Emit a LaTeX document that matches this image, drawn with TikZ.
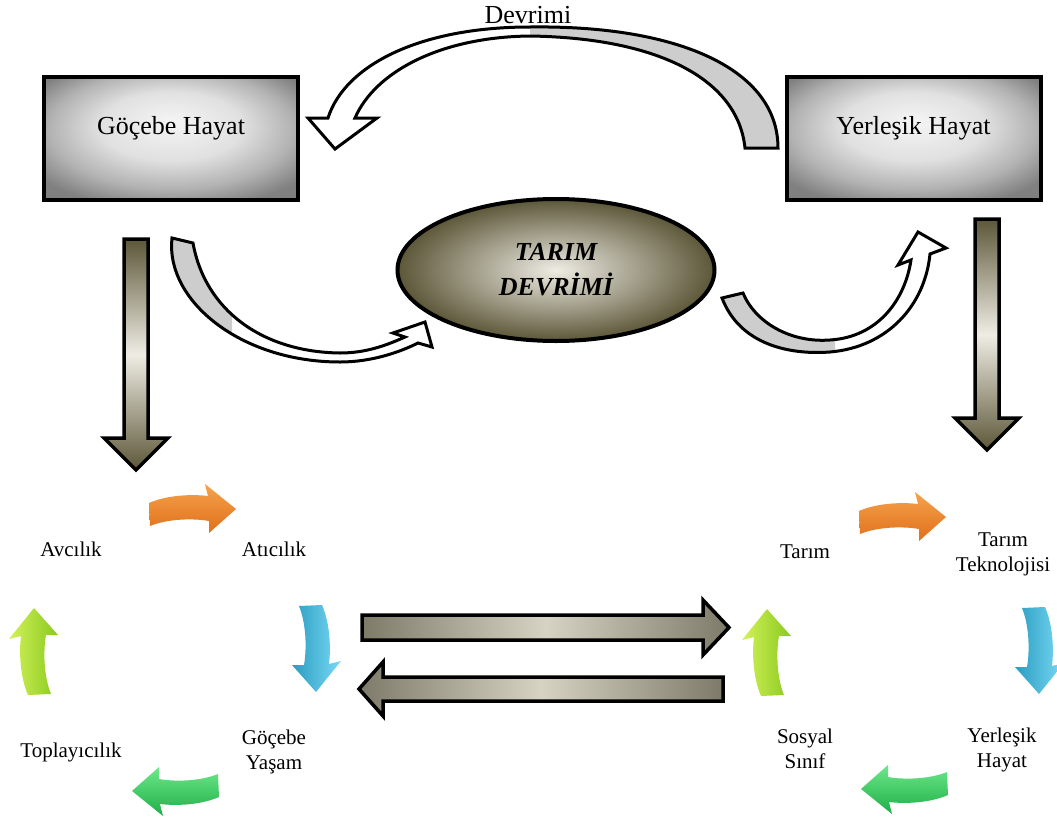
\documentclass[tikz,border=0pt]{standalone}
\usepackage{fontspec}
\setmainfont{Liberation Serif}
\usetikzlibrary{shapes.geometric}

\definecolor{zeytin}{HTML}{5C5738}
\definecolor{krem}{HTML}{EFECE4}
\definecolor{bej}{HTML}{D6D3C4}
\definecolor{bejkoyu}{HTML}{7E7A68}
\definecolor{seritgri}{HTML}{CDCDCD}
\definecolor{turuncuA}{HTML}{F6A24C}
\definecolor{turuncuK}{HTML}{E0701A}
\definecolor{maviA}{HTML}{7ADAF4}
\definecolor{maviK}{HTML}{2A9CC2}
\definecolor{yesilA}{HTML}{6EE88A}
\definecolor{yesilK}{HTML}{1EAE48}
\definecolor{cimenA}{HTML}{D2F25A}
\definecolor{cimenK}{HTML}{8AC91E}

\pgfdeclareradialshading{kutugolge}{\pgfpoint{0bp}{7bp}}{color(0bp)=(black!4); color(14bp)=(black!12); color(24bp)=(black!30); color(32bp)=(black!50); color(50bp)=(black!50)}

% egri blok oklar
\newcommand{\devrimiyol}{(745,148) -- (778,148) .. controls (778,70) and (680,25) .. (530,27) .. controls (420,27) and (345,65) .. (328,118) -- (308,118) -- (335,149) -- (377,118) -- (355,118) .. controls (375,72) and (440,37) .. (530,36) .. controls (660,38) and (738,80) .. (745,148) -- cycle}
\newcommand{\solyol}{(172,238) .. controls (165,300) and (240,362) .. (340,362) .. controls (372,362) and (400,352) .. (418,343) -- (432,347) -- (425,322) -- (393,333) -- (405,337) .. controls (385,346) and (365,353) .. (340,353) .. controls (262,352) and (205,310) .. (193,243) -- cycle}
\newcommand{\sagyol}{(722,298) .. controls (740,345) and (790,355) .. (830,352) .. controls (888,347) and (925,305) .. (930,254) -- (946,248) -- (918,232) -- (898,265) -- (911,260) .. controls (905,300) and (878,337) .. (830,340) .. controls (790,343) and (755,322) .. (743,293) -- cycle}
% dongu oku
\newcommand{\dongu}{(-43,-7) .. controls (-25,-15) and (0,-16) .. (16,-14) -- (13,-26) -- (44,-1) -- (17,23) -- (17,11) .. controls (0,8) and (-25,9) .. (-42,16) -- cycle}

\begin{document}
\begin{tikzpicture}[x=0.5pt,y=-0.5pt,
  kutu/.style={draw,line width=2pt,rectangle,minimum width=127pt,minimum height=61.5pt,
    shading=kutugolge,font=\fontsize{13}{15}\selectfont,text height=9pt,text depth=13pt},
  dikok/.style={draw,line width=1.75pt,top color=zeytin,bottom color=zeytin,middle color=krem},
  yatok/.style={draw,line width=1.75pt,left color=bejkoyu,right color=bejkoyu,middle color=bej},
  etiket/.style={align=center,font=\fontsize{10.5}{12.5}\selectfont},
  seritok/.style={line width=1.5pt,line join=miter}]
\useasboundingbox (0,0) rectangle (1057,820);

\fill[white] \devrimiyol;
\begin{scope}
\clip (530,0) rectangle (800,160);
\fill[seritgri] \devrimiyol;
\end{scope}
\draw[seritok] \devrimiyol;

\fill[white] \solyol;
\begin{scope}
\clip (150,230) rectangle (232,340);
\fill[seritgri] \solyol;
\end{scope}
\draw[seritok] \solyol;

\fill[white] \sagyol;
\begin{scope}
\clip (700,280) rectangle (835,370);
\fill[seritgri] \sagyol;
\end{scope}
\draw[seritok] \sagyol;

\node[font=\fontsize{13}{15}\selectfont] (devrimi) at (528,15) {Devrimi};

\node[kutu] (gocebe) at (171,138.5) {Göçebe Hayat};
\node[kutu] (yerlesik) at (913.5,138.5) {Yerleşik Hayat};

\node[ellipse,draw,line width=2pt,inner sep=0pt,minimum width=158.5pt,minimum height=71pt,
  inner color=krem,outer color=zeytin,align=center,
  font=\fontsize{13}{17.5}\selectfont\bfseries\itshape] (tarim) at (556,270) {TARIM\\DEVRİMİ};

% dikey oklar
\shadedraw[dikok] (124,239) -- (148,239) -- (148,438) -- (168,438) -- (136,470) -- (104,438) -- (124,438) -- cycle;
\shadedraw[dikok] (975,219) -- (999,219) -- (999,418) -- (1019,418) -- (987,450) -- (955,418) -- (975,418) -- cycle;

% yatay oklar
\shadedraw[yatok] (362,615) -- (703,615) -- (703,600) -- (729,627.5) -- (703,655) -- (703,640) -- (362,640) -- cycle;
\shadedraw[yatok] (723,677) -- (383,677) -- (383,662) -- (359,689) -- (383,716) -- (383,701) -- (723,701) -- cycle;

% donguler
\foreach \cx/\cy/\yon/\renk/\aci in {192/510/0/turuncu/0, 315/648/-90/mavi/-90, 176/790/180/yesil/0, 35/652/90/cimen/90,
    902/518/0/turuncu/0, 1038/650/-90/mavi/-90, 905/788/180/yesil/0, 768/653/90/cimen/90}
  \shade[shift={(\cx,\cy)},rotate=\yon,top color=\renk A,bottom color=\renk K,shading angle=\aci] \dongu;

\node[etiket] (avcilik) at (71,549) {Avcılık};
\node[etiket] (aticilik) at (274,549) {Atıcılık};
\node[etiket] (gocebeyasam) at (274,752) {Göçebe\\Yaşam};
\node[etiket] (toplayicilik) at (71,752) {Toplayıcılık};

\node[etiket] (tarimlbl) at (805,552) {Tarım};
\node[etiket] (teknoloji) at (1003,554) {Tarım\\Teknolojisi};
\node[etiket] (yerlesikhayat) at (1002,750) {Yerleşik\\Hayat};
\node[etiket] (sosyal) at (805,749) {Sosyal\\Sınıf};
\end{tikzpicture}
\end{document}
